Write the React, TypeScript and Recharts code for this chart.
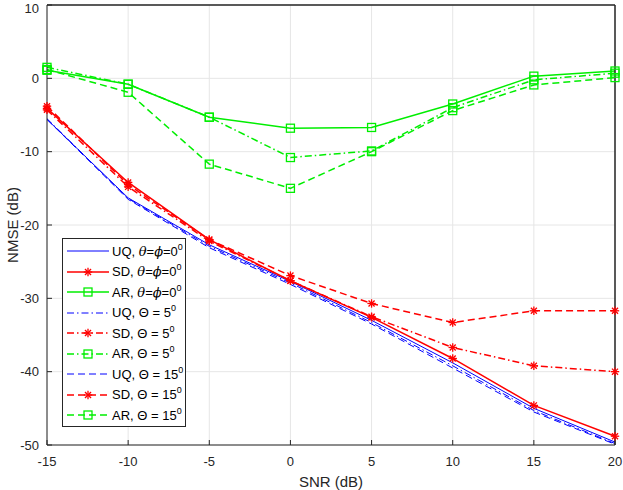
import React from "react";
import {
  LineChart,
  Line,
  XAxis,
  YAxis,
  CartesianGrid,
  Legend,
} from "recharts";

const snr = [-15, -10, -5, 0, 5, 10, 15, 20];

const uq0 = [-5.6, -16.3, -22.7, -27.7, -33.0, -38.8, -45.0, -49.6];
const sd0 = [-4.1, -14.2, -22.0, -27.6, -32.6, -38.2, -44.6, -48.8];
const ar0 = [1.1, -0.8, -5.3, -6.8, -6.7, -3.5, 0.3, 1.0];
const uq5 = [-5.5, -16.4, -22.9, -27.9, -33.3, -39.2, -45.3, -49.8];
const sd5 = [-4.3, -14.8, -22.2, -27.6, -32.5, -36.7, -39.2, -40.0];
const ar5 = [1.5, -0.8, -5.3, -10.8, -9.9, -4.0, -0.2, 0.7];
const uq15 = [-5.6, -16.5, -23.1, -28.1, -33.5, -39.5, -45.5, -49.9];
const sd15 = [-3.8, -14.5, -22.0, -26.9, -30.7, -33.3, -31.7, -31.7];
const ar15 = [1.2, -1.9, -11.7, -15.0, -10.0, -4.4, -0.9, 0.1];

const xTicks = [-15, -10, -5, 0, 5, 10, 15, 20];
const yTicks = [-50, -40, -30, -20, -10, 0, 10];

const FONT = "'Liberation Sans', Arial, Helvetica, sans-serif";
const AXIS = "#262626";

type Marker = "none" | "star" | "square";

interface SeriesDef {
  key: string;
  method: string;
  angle: string; // "zero" | "5" | "15"
  color: string;
  width: number;
  dash?: string;
  marker: Marker;
}

const DASH = "7 4";
const DASHDOT = "7 3 1.5 3";

const series: SeriesDef[] = [
  { key: "uq0", method: "UQ", angle: "zero", color: "#0000ff", width: 1, marker: "none" },
  { key: "sd0", method: "SD", angle: "zero", color: "#ff0000", width: 1.5, marker: "star" },
  { key: "ar0", method: "AR", angle: "zero", color: "#00ee00", width: 1.5, marker: "square" },
  { key: "uq5", method: "UQ", angle: "5", color: "#0000ff", width: 1, dash: DASHDOT, marker: "none" },
  { key: "sd5", method: "SD", angle: "5", color: "#ff0000", width: 1.5, dash: DASHDOT, marker: "star" },
  { key: "ar5", method: "AR", angle: "5", color: "#00ee00", width: 1.5, dash: DASHDOT, marker: "square" },
  { key: "uq15", method: "UQ", angle: "15", color: "#0000ff", width: 1, dash: DASH, marker: "none" },
  { key: "sd15", method: "SD", angle: "15", color: "#ff0000", width: 1.5, dash: DASH, marker: "star" },
  { key: "ar15", method: "AR", angle: "15", color: "#00ee00", width: 1.5, dash: DASH, marker: "square" },
];

const values: Record<string, number[]> = { uq0, sd0, ar0, uq5, sd5, ar5, uq15, sd15, ar15 };

const data = snr.map((x, i) => {
  const row: Record<string, number> = { snr: x };
  for (const s of series) row[s.key] = values[s.key][i];
  return row;
});

function MarkerShape({ kind, cx, cy, color }: { kind: Marker; cx: number; cy: number; color: string }) {
  if (kind === "star") {
    const r = 4.2;
    const d = r * 0.72;
    return (
      <g stroke={color} strokeWidth={1.3} fill="none">
        <line x1={cx - r} y1={cy} x2={cx + r} y2={cy} />
        <line x1={cx} y1={cy - r} x2={cx} y2={cy + r} />
        <line x1={cx - d} y1={cy - d} x2={cx + d} y2={cy + d} />
        <line x1={cx - d} y1={cy + d} x2={cx + d} y2={cy - d} />
      </g>
    );
  }
  if (kind === "square") {
    return (
      <rect x={cx - 4} y={cy - 4} width={8} height={8} fill="none" stroke={color} strokeWidth={1.3} />
    );
  }
  return null;
}

function LegendLabel({ s }: { s: SeriesDef }) {
  const sup = <sup style={{ fontSize: 9, verticalAlign: "6px", lineHeight: 0 }}>0</sup>;
  if (s.angle === "zero") {
    return (
      <span>
        {s.method}, <i style={{ fontFamily: "'DejaVu Serif', serif" }}>θ</i>=
        <i style={{ fontFamily: "'DejaVu Serif', serif" }}>ϕ</i>=0{sup}
      </span>
    );
  }
  return (
    <span>
      {s.method}, Θ = {s.angle}
      {sup}
    </span>
  );
}

function LegendBox() {
  return (
    <div
      style={{
        width: 124,
        height: 189,
        boxSizing: "border-box",
        border: `1px solid ${AXIS}`,
        background: "#fff",
        paddingTop: 2,
        fontFamily: FONT,
        fontSize: 13,
        color: "#000",
      }}
    >
      {series.map((s) => (
        <div key={s.key} style={{ height: 20.5, display: "flex", alignItems: "center", whiteSpace: "nowrap" }}>
          <svg width={49} height={20} style={{ flex: "none" }}>
            <line
              x1={4}
              y1={10}
              x2={46}
              y2={10}
              stroke={s.color}
              strokeWidth={s.width}
              strokeDasharray={s.dash}
            />
            <MarkerShape kind={s.marker} cx={25} cy={10} color={s.color} />
          </svg>
          <LegendLabel s={s} />
        </div>
      ))}
    </div>
  );
}

function YLabel(props: any) {
  const vb = props.viewBox;
  const x = vb.x + 12;
  const y = vb.y + vb.height / 2;
  return (
    <text
      x={x}
      y={y}
      transform={`rotate(-90 ${x} ${y})`}
      textAnchor="middle"
      dominantBaseline="central"
      fontFamily={FONT}
      fontSize={15}
      fill={AXIS}
    >
      NMSE (dB)
    </text>
  );
}

function XLabel(props: any) {
  const vb = props.viewBox;
  return (
    <text
      x={vb.x + vb.width / 2}
      y={vb.y + 36.5}
      textAnchor="middle"
      dominantBaseline="central"
      fontFamily={FONT}
      fontSize={15}
      fill={AXIS}
    >
      SNR (dB)
    </text>
  );
}

export default function App() {
  const tickStyle = { fill: AXIS, fontSize: 13, fontFamily: FONT };
  return (
    <div style={{ position: "absolute", left: 0, top: 0, width: 623, height: 490, background: "#fff" }}>
      <LineChart width={623} height={490} data={data} margin={{ top: 4, right: 7, left: 0, bottom: 0 }}>
        <CartesianGrid stroke="#e6e6e6" strokeWidth={1} />
        <XAxis
          dataKey="snr"
          type="number"
          domain={[-15, 20]}
          ticks={xTicks}
          height={45}
          tick={tickStyle}
          tickSize={-5}
          tickMargin={17}
          stroke={AXIS}
          label={<XLabel />}
        />
        <XAxis
          xAxisId="top"
          dataKey="snr"
          type="number"
          orientation="top"
          domain={[-15, 20]}
          ticks={xTicks}
          height={1}
          tick={false}
          tickSize={-5}
          stroke={AXIS}
          strokeWidth={1.5}
        />
        <YAxis
          type="number"
          domain={[-50, 10]}
          ticks={yTicks}
          width={47}
          tick={tickStyle}
          tickSize={-5}
          tickMargin={13}
          stroke={AXIS}
          label={<YLabel />}
        />
        <YAxis
          yAxisId="right"
          type="number"
          orientation="right"
          domain={[-50, 10]}
          ticks={yTicks}
          width={1}
          tick={false}
          tickSize={-5}
          stroke={AXIS}
          strokeWidth={1.5}
        />
        <Legend
          layout="vertical"
          align="center"
          verticalAlign="middle"
          wrapperStyle={{ position: "absolute", left: 62, top: 238, width: 124, height: 189 }}
          content={() => <LegendBox />}
        />
        {/* invisible series so the top/right frame axes get built */}
        <Line
          dataKey="uq0"
          xAxisId="top"
          yAxisId="right"
          stroke="none"
          dot={false}
          activeDot={false}
          legendType="none"
          isAnimationActive={false}
        />
        {series.map((s) => (
          <Line
            key={s.key}
            dataKey={s.key}
            name={s.key}
            type="linear"
            stroke={s.color}
            strokeWidth={s.width}
            strokeDasharray={s.dash}
            isAnimationActive={false}
            activeDot={false}
            dot={
              s.marker === "none"
                ? false
                : (p: any) => (
                    <MarkerShape
                      key={`${s.key}-${p.index}`}
                      kind={s.marker}
                      cx={p.cx}
                      cy={p.cy}
                      color={s.color}
                    />
                  )
            }
          />
        ))}
      </LineChart>
    </div>
  );
}
